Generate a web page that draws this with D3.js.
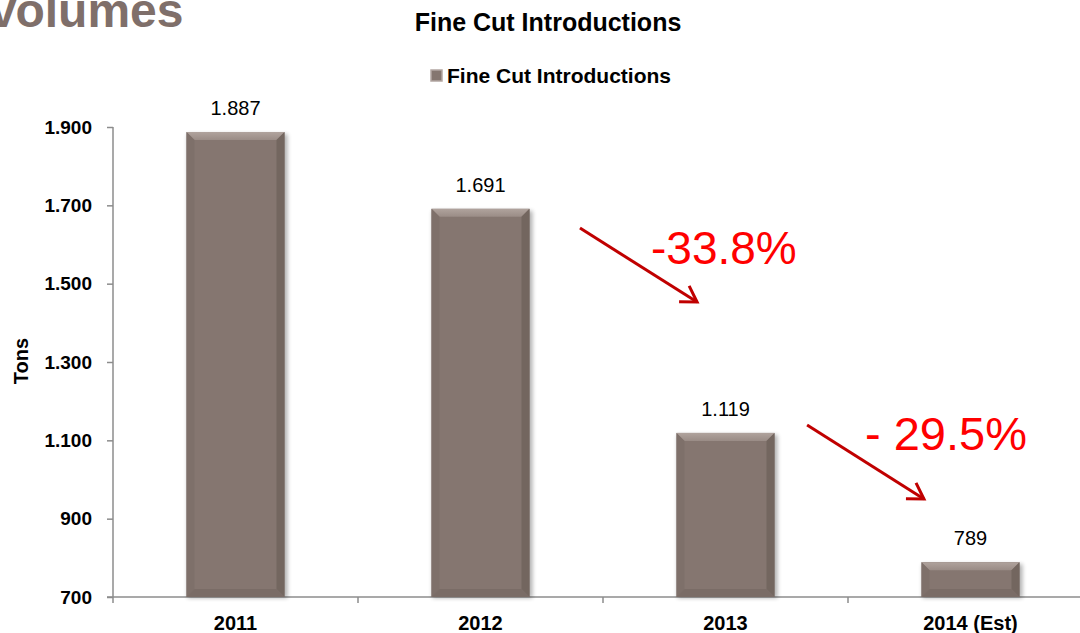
<!DOCTYPE html>
<html>
<head>
<meta charset="utf-8">
<script src="https://cdnjs.cloudflare.com/ajax/libs/d3/7.8.5/d3.min.js"></script>
<style>
  body { margin: 0; background: #fff; }
  text { font-family: Arial, "Liberation Sans", sans-serif; }
</style>
</head>
<body>
<div id="plot"></div>
<script>
var categories = ["2011", "2012", "2013", "2014 (Est)"];
var values = [1887, 1691, 1119, 789];
var valueLabels = ["1.887", "1.691", "1.119", "789"];
var yTicks = [700, 900, 1100, 1300, 1500, 1700, 1900];
var yTickLabels = ["700", "900", "1.100", "1.300", "1.500", "1.700", "1.900"];
// change annotations: x in category index units, y in tons
var changeLabels = ["-33.8%", "- 29.5%"];
var arrowFrom = [[1.906, 1642], [2.833, 1139]];
var arrowTo = [[2.384, 1453], [3.31, 950]];

var svgWidth = 1080;
var svgHeight = 633;
var margin = { top: 127, left: 113, bottom: 36 };
var step = 245;

var svg = d3.select("#plot").append("svg")
  .attr("width", svgWidth)
  .attr("height", svgHeight);

var defs = svg.append("defs");
var blur = defs.append("filter").attr("id", "shadow")
  .attr("x", "-20%").attr("y", "-20%").attr("width", "140%").attr("height", "140%");
blur.append("feGaussianBlur").attr("stdDeviation", 2);

var topGrad = defs.append("linearGradient").attr("id", "topBev")
  .attr("x1", 0).attr("y1", 0).attr("x2", 0).attr("y2", 1);
topGrad.append("stop").attr("offset", "0%").attr("stop-color", "#b0a39d");
topGrad.append("stop").attr("offset", "100%").attr("stop-color", "#9a8c86");

var x = d3.scaleBand()
  .domain(categories)
  .range([margin.left, margin.left + step * categories.length])
  .paddingInner(0.6)
  .paddingOuter(0.3);

// index scale for annotations
var xi = d3.scaleLinear().domain([0, categories.length])
  .range([margin.left, margin.left + step * categories.length]);

var y = d3.scaleLinear()
  .domain([700, 1900])
  .range([597, 127]);

// page title, cut off at the left
svg.append("text")
  .attr("x", -13).attr("y", 27)
  .attr("font-size", "48px").attr("font-weight", "bold")
  .attr("fill", "#7f6f6a")
  .text("Volumes");

svg.append("text")
  .attr("x", 548).attr("y", 31)
  .attr("text-anchor", "middle")
  .attr("font-size", "25px").attr("font-weight", "bold")
  .text("Fine Cut Introductions");

// legend
svg.append("rect")
  .attr("x", 431).attr("y", 70).attr("width", 11).attr("height", 11)
  .attr("fill", "#857670").attr("stroke", "#b3a7a2").attr("stroke-width", 1.5);
svg.append("text")
  .attr("x", 447).attr("y", 83)
  .attr("font-size", "21px").attr("font-weight", "bold")
  .text("Fine Cut Introductions");

// y axis
var leftAxis = d3.axisLeft(y).tickValues(yTicks)
  .tickFormat(function(d, i) { return yTickLabels[i]; })
  .tickSize(6).tickPadding(15);
var yG = svg.append("g").attr("transform", "translate(" + margin.left + ",0)").call(leftAxis);
yG.select(".domain").attr("stroke", "#8c8c8c").attr("stroke-width", 1.5).attr("d", "M0,127V597");
yG.selectAll(".tick line").attr("stroke", "#8c8c8c").attr("stroke-width", 1.5);
yG.selectAll(".tick text")
  .attr("font-size", "19px").attr("font-weight", "bold").attr("fill", "#000")
  .attr("font-family", "Arial, 'Liberation Sans', sans-serif");

svg.append("text")
  .attr("transform", "translate(28,361) rotate(-90)")
  .attr("text-anchor", "middle")
  .attr("font-size", "20px").attr("font-weight", "bold")
  .text("Tons");

// x axis
var xG = svg.append("g").attr("transform", "translate(0,597)");
xG.append("line")
  .attr("x1", margin.left - 6).attr("x2", svgWidth)
  .attr("stroke", "#8c8c8c").attr("stroke-width", 1.5);
xG.selectAll(".sep").data(d3.range(categories.length + 1)).enter()
  .append("line")
  .attr("x1", function(d) { return xi(d); })
  .attr("x2", function(d) { return xi(d); })
  .attr("y1", 0).attr("y2", 6)
  .attr("stroke", "#8c8c8c").attr("stroke-width", 1.5);
xG.selectAll(".cat").data(categories).enter()
  .append("text")
  .attr("x", function(d) { return x(d) + x.bandwidth() / 2; })
  .attr("y", 33)
  .attr("text-anchor", "middle")
  .attr("font-size", "20px").attr("font-weight", "bold")
  .text(function(d) { return d; });

// bars with bevel
var bev = 8;
var bars = svg.selectAll(".bar").data(values).enter().append("g").attr("class", "bar");

bars.append("rect")
  .attr("x", function(d, i) { return x(categories[i]) + 1; })
  .attr("y", function(d) { return y(d) + 2; })
  .attr("width", x.bandwidth() + 2)
  .attr("height", function(d) { return 597 - y(d) - 1; })
  .attr("fill", "#000").attr("opacity", 0.3)
  .attr("filter", "url(#shadow)");

bars.append("rect")
  .attr("x", function(d, i) { return x(categories[i]); })
  .attr("y", function(d) { return y(d); })
  .attr("width", x.bandwidth())
  .attr("height", function(d) { return 597 - y(d); })
  .attr("fill", "#857670");

function poly(pts) { return "M" + pts.map(function(p) { return p.join(","); }).join("L") + "Z"; }

bars.each(function(d, i) {
  var g = d3.select(this);
  var x0 = x(categories[i]), x1 = x0 + x.bandwidth();
  var y0 = y(d), y1 = 597;
  g.append("path").attr("d", poly([[x0, y0], [x1, y0], [x1 - bev, y0 + bev], [x0 + bev, y0 + bev]]))
    .attr("fill", "url(#topBev)");
  g.append("path").attr("d", poly([[x0, y0], [x0 + bev, y0 + bev], [x0 + bev, y1 - bev], [x0, y1]]))
    .attr("fill", "#7e706a");
  g.append("path").attr("d", poly([[x1, y0], [x1, y1], [x1 - bev, y1 - bev], [x1 - bev, y0 + bev]]))
    .attr("fill", "#73665f");
  g.append("path").attr("d", poly([[x0, y1], [x0 + bev, y1 - bev], [x1 - bev, y1 - bev], [x1, y1]]))
    .attr("fill", "#7a6c66");
});

bars.append("text")
  .attr("x", function(d, i) { return x(categories[i]) + x.bandwidth() / 2; })
  .attr("y", function(d) { return y(d) - 17; })
  .attr("text-anchor", "middle")
  .attr("font-size", "20px")
  .text(function(d, i) { return valueLabels[i]; });

// change arrows
var arrowCol = "#c00000";
arrowFrom.forEach(function(a, i) {
  var b = arrowTo[i];
  var sx = xi(a[0]), sy = y(a[1]), tx = xi(b[0]), ty = y(b[1]);
  var ang = Math.atan2(ty - sy, tx - sx);
  var L = 18, spread = 0.55;
  svg.append("line")
    .attr("x1", sx).attr("y1", sy).attr("x2", tx).attr("y2", ty)
    .attr("stroke", arrowCol).attr("stroke-width", 3);
  svg.append("path")
    .attr("d", "M" + (tx - L * Math.cos(ang - spread)) + "," + (ty - L * Math.sin(ang - spread)) +
      "L" + tx + "," + ty +
      "L" + (tx - L * Math.cos(ang + spread)) + "," + (ty - L * Math.sin(ang + spread)))
    .attr("fill", "none").attr("stroke", arrowCol).attr("stroke-width", 3)
    .attr("stroke-linejoin", "miter");
});

svg.append("text")
  .attr("x", 651).attr("y", 264)
  .attr("font-size", "46px").attr("fill", "#ff0000")
  .text(changeLabels[0]);
svg.append("text")
  .attr("x", 865).attr("y", 450)
  .attr("font-size", "47px").attr("fill", "#ff0000")
  .text(changeLabels[1]);
</script>
</body>
</html>
